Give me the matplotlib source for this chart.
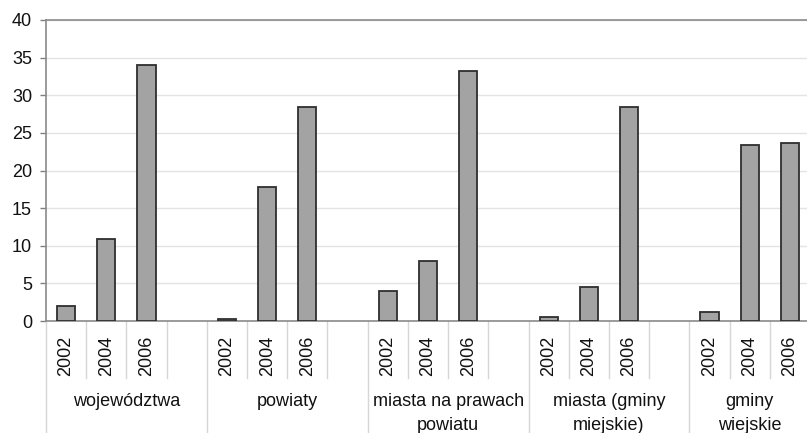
import matplotlib
matplotlib.use('Agg')
import matplotlib.pyplot as plt

plt.rcParams['font.family'] = ['Liberation Sans', 'DejaVu Sans']

groups = ['województwa', 'powiaty', 'miasta na prawach\npowiatu',
          'miasta (gminy\nmiejskie)', 'gminy\nwiejskie']
years = ['2002', '2004', '2006']
v_woj = [2.0, 10.85, 34.0]
v_pow = [0.3, 17.75, 28.5]
v_mnpp = [4.0, 8.0, 33.25]
v_miej = [0.5, 4.5, 28.5]
v_wiej = [1.25, 23.4, 23.6]
values = [v_woj, v_pow, v_mnpp, v_miej, v_wiej]

W, H = 807, 433
fig = plt.figure(figsize=(W / 100, H / 100), dpi=100)
# plot area: left edge at x=46, zero line at y=321, 40 at y=20; runs past the right edge
ax = fig.add_axes([46 / W, (H - 321) / H, 764 / W, 301 / H])

slot = 4
n_slots = slot * len(groups) - 1
for g, vals in enumerate(values):
    xs = [g * slot + i for i in range(len(vals))]
    ax.bar(xs, vals, width=0.45, color='#a3a3a3', edgecolor='#2e2e2e',
           linewidth=1.3, zorder=3)

ax.set_xlim(-0.5, n_slots - 0.5)
ax.set_ylim(0, 40)
ax.set_yticks(range(0, 41, 5))
ax.tick_params(axis='y', length=4, width=1, color='#808080', pad=6,
               labelsize=13, labelcolor='#111111')
ax.set_xticks([])
ax.grid(axis='y', color='#e4e4e4', linewidth=1, zorder=0)
for side in ['left', 'bottom', 'top', 'right']:
    ax.spines[side].set_color('#8a8a8a')
    ax.spines[side].set_linewidth(1.2)

# category axis: year labels, separators, group labels
tr = ax.get_xaxis_transform()
y_short = (321 - 378) / 301
y_long = (321 - 440) / 301
for g in range(len(groups)):
    start = g * slot
    ax.plot([start - 0.5, start - 0.5], [0, y_long], transform=tr,
            color='#d6d6d6', linewidth=1, clip_on=False)
    for i, yr in enumerate(years):
        x = start + i
        ax.text(x, (321 - 336) / 301, yr, transform=tr, rotation=90,
                ha='center', va='top', fontsize=13, color='#111111')
        if x + 0.5 < (g + 1) * slot - 0.5 and x + 0.5 < n_slots - 0.5:
            ax.plot([x + 0.5, x + 0.5], [0, y_short], transform=tr,
                    color='#d6d6d6', linewidth=1, clip_on=False)
    n_in = min(slot, n_slots - start)
    center = start + (n_in - 1) / 2
    ax.text(center, (321 - 393) / 301, groups[g], transform=tr,
            ha='center', va='top', fontsize=13, color='#111111',
            linespacing=1.55, multialignment='center')

fig.savefig('out.png', dpi=100)
